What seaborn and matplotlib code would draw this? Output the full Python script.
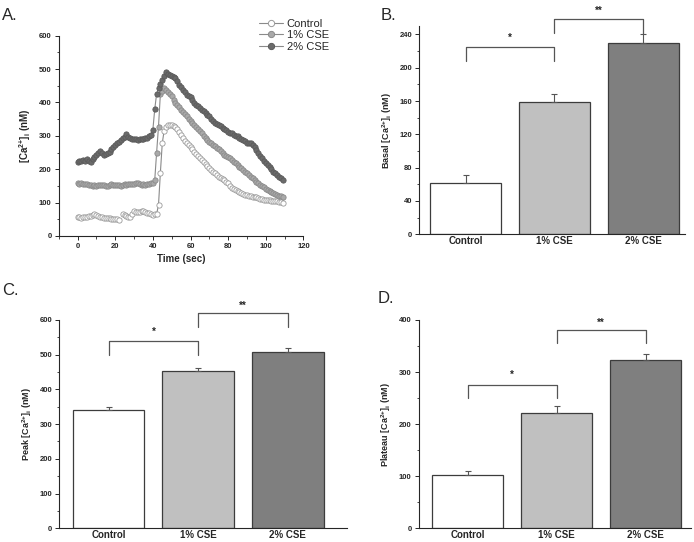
import numpy as np
import pandas as pd
import matplotlib
matplotlib.use("Agg")
import matplotlib.pyplot as plt
import seaborn as sns
from matplotlib.lines import Line2D
from matplotlib.ticker import MultipleLocator

sns.set_style("ticks")
plt.rcParams['font.family'] = ['Liberation Sans', 'DejaVu Sans']
plt.rcParams['font.weight'] = 'bold'
plt.rcParams['mathtext.fontset'] = 'custom'
plt.rcParams['mathtext.rm'] = 'Liberation Sans:bold'
plt.rcParams['mathtext.it'] = 'Liberation Sans:bold'
plt.rcParams['mathtext.bf'] = 'Liberation Sans:bold'

# ---- data -------------------------------------------------------------
time_sec = np.arange(0, 110)

control_trace = [56, 57, 55, 56, 58, 58, 60, 59, 62, 65, 62, 60, 58, 56, 55, 54, 53, 53, 52, 51,
                 51, 50, 48, np.nan, 66, 64, 61, 58, 56, 66, 74, 73, 72, 71, 74, 76, 73, 70, 68, 66,
                 64, 65, 66, 93, 190, 278, 316, 328, 332, 334, 333, 331, 326, 320, 313, 303, 293, 286, 280, 274,
                 268, 260, 253, 246, 240, 234, 228, 222, 216, 209, 203, 198, 193, 188, 183, 178, 173, 170, 167, 163,
                 160, 150, 143, 140, 138, 135, 133, 129, 126, 124, 123, 121, 120, 118, 117, 116, 114, 112, 110, 109,
                 108, 108, 107, 106, 106, 105, 104, 103, 102, 100]

cse1_trace = [158, 157, 158, 156, 157, 155, 154, 153, 150, 152, 151, 153, 152, 154, 153, 150, 151, 152, 155, 154,
              153, 152, 154, 151, 152, 155, 154, 156, 155, 156, 157, 158, 158, 156, 154, 155, 153, 155, 156, 158,
              158, 168, 250, 328, 426, 433, 443, 438, 430, 424, 418, 408, 398, 391, 385, 378, 371, 365, 358, 350,
              343, 338, 333, 328, 321, 315, 308, 301, 295, 288, 283, 278, 273, 269, 264, 260, 254, 248, 243, 241,
              238, 233, 228, 223, 218, 213, 208, 203, 198, 193, 188, 183, 178, 173, 168, 163, 159, 154, 150, 146,
              142, 138, 135, 131, 128, 125, 122, 120, 119, 118]

cse2_trace = [223, 224, 226, 228, 226, 230, 225, 221, 230, 238, 243, 248, 255, 248, 244, 246, 248, 253, 260, 268,
              273, 278, 283, 288, 293, 298, 305, 298, 293, 291, 290, 290, 289, 291, 290, 290, 293, 295, 299, 303,
              318, 380, 426, 443, 455, 468, 480, 490, 486, 483, 480, 477, 473, 463, 453, 446, 438, 430, 423, 420,
              416, 407, 398, 393, 388, 383, 378, 373, 368, 363, 358, 350, 343, 340, 336, 333, 329, 325, 321, 317,
              313, 310, 308, 304, 300, 301, 293, 291, 288, 284, 280, 279, 278, 272, 266, 257, 248, 240, 233, 225,
              218, 213, 208, 200, 193, 188, 183, 178, 173, 168]

groups = ["Control", "1% CSE", "2% CSE"]

basal_mean = [62, 159, 230]
basal_err = [9, 10, 11]
peak_mean = [341, 452, 508]
peak_err = [7, 11, 11]
plateau_mean = [103, 222, 323]
plateau_err = [7, 12, 11]

# ---- styling ----------------------------------------------------------
line_col = "#8a8a8a"
marker_fill = ["white", "#a9a9a9", "#6b6b6b"]
marker_edge = ["#9a9a9a", "#8a8a8a", "#5a5a5a"]
bar_fill = ["white", "#c0c0c0", "#7f7f7f"]
bar_edge = "#3c3c3c"
ca_label = r"[Ca$^{2{+}}$]$_{i}$ (nM)"

fig = plt.figure(figsize=(6.94, 5.42), dpi=100)


def style_axes(ax):
    sns.despine(ax=ax)
    ax.spines["left"].set_linewidth(0.8)
    ax.spines["bottom"].set_linewidth(0.8)
    ax.tick_params(direction="out", length=3, width=0.7, labelsize=5.5, pad=2)
    ax.tick_params(which="minor", direction="out", length=1.8, width=0.6)


# ---- panel A: time course -------------------------------------------
axA = fig.add_axes([0.0846, 0.5646, 0.3527, 0.3695])
traces = [control_trace, cse1_trace, cse2_trace]
handles = []
for i, (name, vals) in enumerate(zip(groups, traces)):
    df = pd.DataFrame({"t": time_sec, "v": vals})
    # split on gaps so the line breaks where the recording stops
    df["seg"] = df["v"].isna().cumsum()
    df = df.dropna()
    for _, part in df.groupby("seg"):
        sns.lineplot(data=part, x="t", y="v", ax=axA, color=line_col, lw=0.8,
                     marker="o", markersize=3.8, markerfacecolor=marker_fill[i],
                     markeredgecolor=marker_edge[i], markeredgewidth=0.6,
                     estimator=None, sort=False, legend=False)
    handles.append(Line2D([], [], color=line_col, lw=0.8, marker="o", markersize=4.5,
                          markerfacecolor=marker_fill[i], markeredgecolor=marker_edge[i],
                          markeredgewidth=0.7, label=name))

axA.set_xlim(-10, 120)
axA.set_ylim(0, 600)
axA.xaxis.set_major_locator(MultipleLocator(20))
axA.xaxis.set_minor_locator(MultipleLocator(10))
axA.yaxis.set_major_locator(MultipleLocator(100))
axA.yaxis.set_minor_locator(MultipleLocator(50))
axA.set_xlabel("Time (sec)", fontsize=7, fontweight="bold", labelpad=3)
axA.set_ylabel(ca_label, fontsize=7, fontweight="bold", labelpad=4)
style_axes(axA)
fig.legend(handles=handles, loc="upper left", bbox_to_anchor=(0.362, 0.98),
           frameon=False, prop={"size": 8, "weight": "normal"}, handlelength=2.2,
           handletextpad=0.3, labelspacing=0.15, borderpad=0.2)


# ---- bar panels -------------------------------------------------------
def bar_panel(rect, means, errs, ylim, major, minor, ylabel, brk1, brk2):
    ax = fig.add_axes(rect)
    sns.barplot(x=groups, y=means, hue=groups, palette=bar_fill, ax=ax,
                edgecolor=bar_edge, linewidth=0.9, width=0.8, legend=False)
    ax.errorbar(range(3), means, yerr=[[0, 0, 0], errs], fmt="none",
                ecolor="#555555", elinewidth=0.8, capsize=2.2, capthick=0.8)
    ax.set_xlim(-0.52, 2.47)
    ax.set_ylim(*ylim)
    ax.yaxis.set_major_locator(MultipleLocator(major))
    ax.yaxis.set_minor_locator(MultipleLocator(minor))
    ax.set_ylabel(ylabel, fontsize=6.5, fontweight="bold", labelpad=4)
    style_axes(ax)
    ax.tick_params(axis="x", length=0, labelsize=7, pad=1.5)
    # significance brackets: (x0, x1, leg0, leg1, top, text_y, text)
    for x0, x1, l0, l1, top, ty, txt in (brk1, brk2):
        ax.plot([x0, x0, x1, x1], [l0, top, top, l1], color="#555555", lw=0.9,
                clip_on=False)
        ax.text((x0 + x1) / 2, ty, txt, ha="center", va="center",
                fontsize=7, fontweight="bold", clip_on=False)
    return ax


axB = bar_panel([0.6042, 0.5677, 0.3828, 0.3843], basal_mean, basal_err,
                (0, 250), 40, 20, "Basal " + ca_label,
                (0, 1, 208, 208, 225, 236, "*"), (1, 2, 242, 240, 258, 268, "**"))
axC = bar_panel([0.0854, 0.0253, 0.4146, 0.3843], peak_mean, peak_err,
                (0, 600), 100, 50, "Peak " + ca_label,
                (0, 1, 499, 499, 540, 566, "*"), (1, 2, 580, 580, 621, 641, "**"))
axC.set_xlim(-0.55, 2.66)
axD = bar_panel([0.6033, 0.0253, 0.3925, 0.3843], plateau_mean, plateau_err,
                (0, 400), 100, 50, "Plateau " + ca_label,
                (0, 1, 250, 250, 276, 294, "*"), (1, 2, 355, 355, 380, 395, "**"))
axD.set_xlim(-0.55, 2.51)

# ---- panel letters ----------------------------------------------------
for x, y, s in [(0.003, 0.985, "A."), (0.549, 0.985, "B."),
                (0.003, 0.478, "C."), (0.544, 0.463, "D.")]:
    fig.text(x, y, s, fontsize=12, fontweight="normal", va="top", ha="left")

fig.savefig("out.png", dpi=100, facecolor="white")
